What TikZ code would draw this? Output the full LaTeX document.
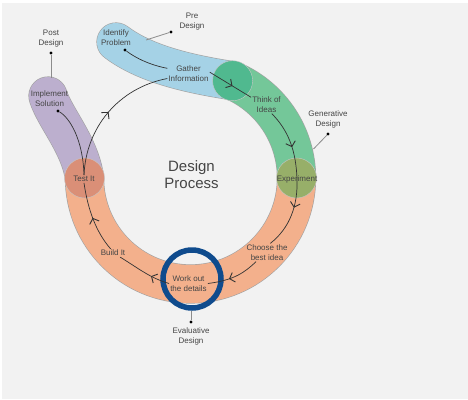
\documentclass[tikz,border=0pt]{standalone}
\usepackage{fontspec}
\setmainfont{Liberation Sans}
\usetikzlibrary{arrows.meta,decorations.markings}

\definecolor{bg}{HTML}{F2F2F2}
\definecolor{txt}{HTML}{454545}
\definecolor{edgec}{HTML}{A2A2A2}
\definecolor{leadc}{HTML}{8C8C8C}
\definecolor{linec}{HTML}{333333}
\definecolor{orangeband}{HTML}{F3B08C}
\definecolor{greenband}{HTML}{74C799}
\definecolor{blueband}{HTML}{A5D2E6}
\definecolor{purpleband}{HTML}{BCAFCE}
\definecolor{testfill}{HTML}{DA8F77}
\definecolor{experfill}{HTML}{97AF69}
\definecolor{ideafill}{HTML}{50B98F}
\definecolor{focusring}{HTML}{0F4B8D}

\begin{document}
\begin{tikzpicture}[x=1pt,y=-1pt,
  lbl/.style={font=\fontsize{8}{10}\selectfont, text=txt, align=center, inner sep=1pt},
  ttl/.style={font=\fontsize{15}{17}\selectfont, text=txt, align=center},
  leaddot/.style={circle, fill=black, inner sep=0pt, minimum size=3.2pt},
  flow/.style={draw=linec, line width=0.7pt},
  midtip/.style={postaction={decorate}, decoration={markings,
      mark=at position #1 with {\arrow{Straight Barb[length=4.5pt,width=10pt,line width=0.9pt]}}}},
  lead/.style={draw=leadc, line width=0.8pt},
  band/.style={draw=edgec, line width=0.6pt, double=#1, double distance=38pt},
  stage/.style={circle, fill=#1, draw=black!22, line width=0.4pt, minimum size=40pt, inner sep=0pt},
]
% page and backdrop
\fill[white] (0,0) rectangle (468,399);
\fill[bg] (2,3) rectangle (468,399);
\useasboundingbox (0,0) rectangle (468,399);

% the four phase bands
\draw[band=purpleband, line cap=round] (84.5,178) .. controls (80,145) and (55,118) .. (48,96);
\draw[band=blueband, line cap=round] (232.6,80.7) .. controls (175,72) and (140,60) .. (116,42);
\draw[band=orangeband] (296.5,178) arc[start angle=0, end angle=180, radius=106];
\draw[band=greenband] (232.6,80.7) arc[start angle=-66.6, end angle=0, radius=106];

% junction discs
\node[stage=testfill] (testdisc) at (84.5,178) {};
\node[stage=experfill] (experdisc) at (296.5,178) {};
\node[stage=ideafill] (ideadisc) at (232.6,80.7) {};

% highlighted step
\draw[draw=focusring, line width=5.5pt] (192,279) circle[radius=29];

% step labels
\node[lbl] (post) at (51,38.5) {Post\\Design};
\node[lbl] (pre) at (192,22) {Pre\\Design};
\node[lbl] (identify) at (116,37.5) {Identify\\Problem};
\node[lbl] (gather) at (188.5,74) {Gather\\Information};
\node[lbl] (implement) at (49.5,98.5) {Implement\\Solution};
\node[lbl] (testit) at (84,179) {Test It};
\node[ttl] (title) at (191.5,174.5) {Design\\Process};
\node[lbl] (think) at (266.5,104.5) {Think of\\Ideas};
\node[lbl] (gen) at (328,119.5) {Generative\\Design};
\node[lbl] (exper) at (297,179) {Experiment};
\node[lbl] (build) at (113,253) {Build It};
\node[lbl] (work) at (188.5,283.5) {Work out\\the details};
\node[lbl] (eval) at (191,336.5) {Evaluative\\Design};
\node[lbl] (choose) at (267,252.5) {Choose the\\best idea};

% annotation dots and their ends on the bands
\node[leaddot] (postdot) at (51,53) {};
\node[leaddot] (predot) at (171,32) {};
\node[leaddot] (gendot) at (328,134) {};
\node[leaddot] (evaldot) at (191,322) {};
\node[leaddot] (identdot) at (125,50) {};
\node[leaddot] (impldot) at (58,111) {};
\coordinate (postend) at (51,77.5);
\coordinate (preend) at (146,40);
\coordinate (genend) at (313.5,149);
\coordinate (evalend) at (191,311);

\draw[lead] (postdot) -- (postend);
\draw[lead] (predot) -- (preend);
\draw[lead] (gendot) -- (genend);
\draw[lead] (evaldot) -- (evalend);

% process flow
\draw[flow] (identdot) .. controls (140,61) and (155,66) .. (gather.165);
\draw[flow] (impldot) .. controls (70,118) and (83,140) .. (testit.north);
\draw[flow, midtip=0.5] (testit.north) .. controls (86,128) and (118,88) .. (gather.192);
\draw[flow, midtip=0.55] (gather.5) -- (think.155);
\draw[flow, midtip=0.55] (think.-60) .. controls (288,130) and (296,150) .. (exper.center);
\draw[flow, midtip=0.4] (exper.center) .. controls (298,205) and (290,228) .. (choose.70);
\draw[flow, midtip=0.6] (choose.220) .. controls (245,272) and (235,280) .. (work.east);
\draw[flow, midtip=0.35] (work.west) .. controls (150,278) and (138,268) .. (build.-30);
\draw[flow, midtip=0.5] (build.120) .. controls (96,232) and (88,210) .. (testit.south);
\end{tikzpicture}
\end{document}
